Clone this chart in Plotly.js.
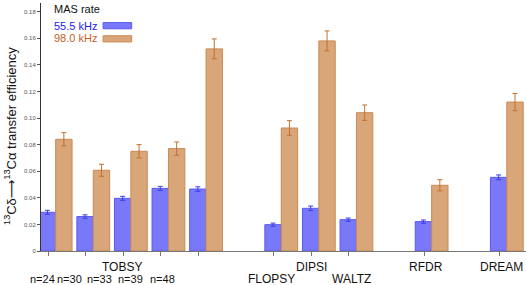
<!DOCTYPE html>
<html>
<head>
<meta charset="utf-8">
<script src="https://cdn.plot.ly/plotly-3.0.1.min.js"></script>
<style>html,body{margin:0;padding:0;background:#fff;}#chart{width:526px;height:285px;}</style>
</head>
<body>
<div id="chart"></div>
<script>
// ---- data ----
const categories = ['n=24','n=30','n=33','n=39','n=48','FLOPSY','DIPSI','WALTZ','RFDR','DREAM'];
const groupX     = [0, 1, 2, 3, 4, 6, 7, 8, 10, 12];
const rate555    = [0.0291, 0.0259, 0.0396, 0.0471, 0.0466, 0.0198, 0.0321, 0.0236, 0.0221, 0.0554];
const rate555Err = [0.0015, 0.0013, 0.0015, 0.0015, 0.0017, 0.0012, 0.0017, 0.0012, 0.0012, 0.0018];
const rate980    = [0.0840, 0.0607, 0.0750, 0.0770, 0.1520, 0.0925, 0.1580, 0.1040, 0.0494, 0.1120];
const rate980Err = [0.0050, 0.0045, 0.0050, 0.0050, 0.0075, 0.0055, 0.0075, 0.0058, 0.0042, 0.0065];
const yTickVals  = [0, 0.02, 0.04, 0.06, 0.08, 0.10, 0.12, 0.14, 0.16, 0.18];
const yTickText  = ['0','0.02','0.04','0.06','0.08','0.10','0.12','0.14','0.16','0.18'];
const seriesNames = ['55.5 kHz', '98.0 kHz'];
const groupTitle = 'TOBSY';
const legendTitle = 'MAS rate';
const yTitle = '<sup>13</sup>Cδ<span style="font-family:DejaVu Sans">⟶</span><sup>13</sup>Cα transfer efficiency';

// ---- label placement (text positions only) ----
const labelRows = {
  'n=24':  {x: -0.34, row: 2}, 'n=30': {x: 0.38, row: 2}, 'n=33': {x: 1.165, row: 2},
  'n=39':  {x: 1.98, row: 2},  'n=48': {x: 2.85, row: 2},
  'FLOPSY':{x: 5.75, row: 2},  'DIPSI': {x: 6.81, row: 1}, 'WALTZ': {x: 7.88, row: 2},
  'RFDR':  {x: 9.85, row: 1},  'DREAM': {x: 11.87, row: 1}
};
const FONT = 'Liberation Sans, Arial, Helvetica, sans-serif';
const BLUE = '#7878f8', BLUE_L = '#5a5aee', BLUE_E = '#3c3ce6';
const ORG = '#d8a679', ORG_L = '#c98a52', ORG_E = '#c2702f';

const traces = [
  {type: 'bar', name: seriesNames[0], x: groupX, y: rate555,
   marker: {color: BLUE, line: {color: BLUE_L, width: 1}},
   error_y: {type: 'data', array: rate555Err, visible: true, color: BLUE_E, thickness: 1, width: 2.5}},
  {type: 'bar', name: seriesNames[1], x: groupX, y: rate980,
   marker: {color: ORG, line: {color: ORG_L, width: 1}},
   error_y: {type: 'data', array: rate980Err, visible: true, color: ORG_E, thickness: 1, width: 2.5}}
];

const annotations = [];
const rowY = {1: -0.0625, 2: -0.113};
categories.forEach(c => {
  const small = c.startsWith('n=');
  annotations.push({xref: 'x', yref: 'paper', x: labelRows[c].x, y: rowY[labelRows[c].row],
    text: c, showarrow: false, xanchor: 'center', yanchor: 'middle',
    font: {family: FONT, size: small ? 11 : 12, color: '#111'}});
});
annotations.push({xref: 'x', yref: 'paper', x: 1.76, y: rowY[1], text: groupTitle, showarrow: false,
  xanchor: 'center', yanchor: 'middle', font: {family: FONT, size: 12, color: '#111'}});
// legend
annotations.push({xref: 'paper', yref: 'paper', x: 0.023, y: 0.975, text: legendTitle, showarrow: false,
  xanchor: 'left', yanchor: 'middle', font: {family: FONT, size: 11, color: '#111'}});
annotations.push({xref: 'paper', yref: 'paper', x: 0.023, y: 0.908, text: seriesNames[0], showarrow: false,
  xanchor: 'left', yanchor: 'middle', font: {family: FONT, size: 11, color: '#2222ee'}});
annotations.push({xref: 'paper', yref: 'paper', x: 0.023, y: 0.860, text: seriesNames[1], showarrow: false,
  xanchor: 'left', yanchor: 'middle', font: {family: FONT, size: 11, color: '#c2611f'}});
// y title
annotations.push({xref: 'paper', yref: 'paper', x: 0, y: 0.464, xshift: -31, text: yTitle, textangle: -90,
  showarrow: false, xanchor: 'center', yanchor: 'middle', font: {family: FONT, size: 13, color: '#111'}});
// axis arrow
annotations.push({xref: 'paper', yref: 'paper', x: 0, y: 1.0, ax: 0, ay: 9,
  showarrow: true, arrowhead: 2, arrowsize: 1.6, arrowwidth: 1, arrowcolor: '#111', text: ' '});

const shapes = [
  {type: 'rect', xref: 'paper', yref: 'paper', x0: 0.128, x1: 0.187, y0: 0.896, y1: 0.921,
   fillcolor: BLUE, line: {color: BLUE_L, width: 1}},
  {type: 'rect', xref: 'paper', yref: 'paper', x0: 0.128, x1: 0.187, y0: 0.843, y1: 0.868,
   fillcolor: ORG, line: {color: ORG_L, width: 1}}
];

const layout = {
  width: 526, height: 285,
  margin: {l: 41, r: 0, t: 3, b: 34},
  paper_bgcolor: '#fff', plot_bgcolor: '#fff',
  barmode: 'group', bargap: 0.128, bargroupgap: 0,
  showlegend: false,
  font: {family: FONT},
  xaxis: {range: [-0.39, 12.51], showgrid: false, zeroline: false,
    showline: true, linecolor: '#777', linewidth: 1,
    tickmode: 'array', tickvals: groupX.map(v => v - 0.2), ticks: 'outside', ticklen: 4,
    tickcolor: '#777', showticklabels: false},
  yaxis: {range: [0, 0.1865], showgrid: false, zeroline: false,
    showline: true, linecolor: '#333', linewidth: 1,
    tickmode: 'array', tickvals: yTickVals, ticktext: yTickText,
    ticks: 'outside', ticklen: 3, tickcolor: '#555',
    tickfont: {size: 6, color: '#555', family: FONT}},
  annotations: annotations,
  shapes: shapes
};

Plotly.newPlot('chart', traces, layout, {displayModeBar: false, staticPlot: true});
</script>
</body>
</html>
